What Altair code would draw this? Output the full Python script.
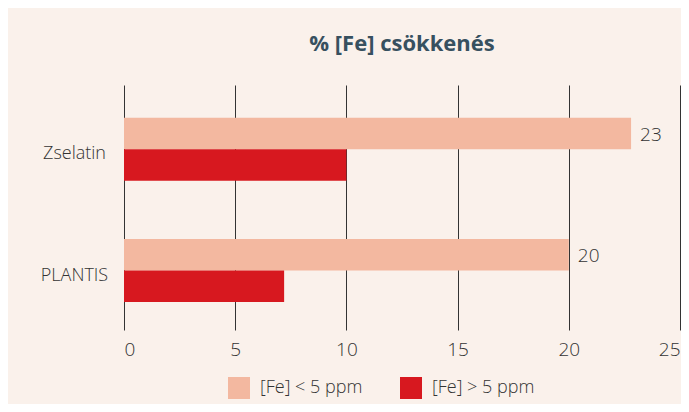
import altair as alt
import pandas as pd

# ---- data ----
categories = ["Zselatin", "PLANTIS"]
series_names = ["[Fe] < 5 ppm", "[Fe] > 5 ppm"]
below_5ppm = [22.8, 20]    # light bars (labelled, shown rounded: 23, 20)
above_5ppm = [10, 7.2]     # red bars
series_colors = ["#f3b8a0", "#d7181f"]
x_ticks = [0, 5, 10, 15, 20, 25]
title_text = "% [Fe] csökkenés"

rows = []
for i, c in enumerate(categories):
    rows.append({"cat": c, "series": series_names[0], "value": below_5ppm[i]})
    rows.append({"cat": c, "series": series_names[1], "value": above_5ppm[i]})
df = pd.DataFrame(rows)

LABEL_FONT = "Open Sans"
LABEL_WEIGHT = 300
TEXT_COLOR = "#333333"
BG = "#faf1eb"

y_enc = alt.Y(
    "cat:N",
    sort=categories,
    scale=alt.Scale(paddingInner=0.48, paddingOuter=0.25, align=0.54),
    axis=alt.Axis(
        title=None, domain=False, ticks=False, tickSize=0, grid=False,
        labelAlign="center", labelPadding=50, labelOffset=5,
        labelFont=LABEL_FONT, labelFontWeight=LABEL_WEIGHT,
        labelFontSize=18, labelColor=TEXT_COLOR,
    ),
)
yoff_enc = alt.YOffset("series:N", sort=series_names)

x_enc = alt.X(
    "value:Q",
    scale=alt.Scale(domain=[0, 25], nice=False),
    axis=alt.Axis(
        title=None, values=x_ticks, domain=False, ticks=False, tickSize=0,
        grid=True, gridColor="#333333", gridWidth=1, gridOpacity=1,
        labelPadding=10, labelFont=LABEL_FONT, labelFontWeight=LABEL_WEIGHT,
        labelFontSize=19, labelColor=TEXT_COLOR,
    ),
)

base = alt.Chart(df).encode(y=y_enc, yOffset=yoff_enc)

bars = base.mark_bar(size=31.5).encode(
    x=x_enc,
    color=alt.Color(
        "series:N",
        sort=series_names,
        scale=alt.Scale(domain=series_names, range=series_colors),
        legend=alt.Legend(
            title=None, orient="none", legendX=104, legendY=292,
            direction="horizontal", symbolType="square", symbolSize=484,
            symbolStrokeWidth=0, labelFont=LABEL_FONT,
            labelFontWeight=LABEL_WEIGHT, labelFontSize=18,
            labelColor=TEXT_COLOR, labelOffset=10, columnPadding=37,
            padding=0,
        ),
    ),
)

labels = base.transform_filter(
    alt.datum.series == series_names[0]
).mark_text(
    align="left", baseline="middle", dx=9, dy=1,
    font=LABEL_FONT, fontWeight=LABEL_WEIGHT, fontSize=19, color=TEXT_COLOR,
).encode(x="value:Q", text=alt.Text("value:Q", format=".0f"))

chart = (
    alt.layer(bars, labels)
    .properties(
        width=556,
        height=245,
        title=alt.TitleParams(
            title_text, font="Open Sans", fontSize=22, fontWeight="bold",
            color="#37505f", anchor="middle", frame="group", offset=29,
        ),
        background=BG,
        padding={"left": 116, "top": 77, "right": 1, "bottom": 74},
        autosize=alt.AutoSizeParams(type="none"),
    )
    .configure_view(stroke=None)
)

chart.save("out.html", embed_options={"renderer": "svg", "actions": False})
